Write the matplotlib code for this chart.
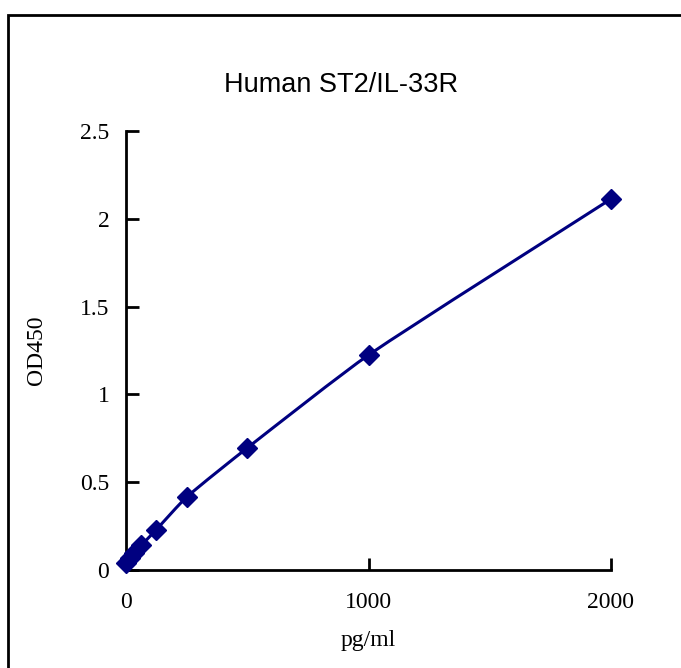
import numpy as np
import matplotlib.pyplot as plt
from matplotlib.path import Path
from matplotlib.patches import PathPatch, Rectangle

# standard concentrations and OD readings
conc = [0, 15.6, 31.25, 62.5, 125, 250, 500, 1000, 2000]
od450 = [0.04, 0.07, 0.097, 0.14, 0.23, 0.415, 0.695, 1.224, 2.113]
x_ticks = [0, 1000, 2000]
y_ticks = [0, 0.5, 1, 1.5, 2, 2.5]
y_tick_labels = ['0', '0.5', '1', '1.5', '2', '2.5']

navy = '#000080'
serif = ['Liberation Serif', 'DejaVu Serif']

fig = plt.figure(figsize=(6.81, 6.68), dpi=100)
# outer chart frame, runs off the right and bottom of the image
fig.patches.append(Rectangle((8 / 681, -0.05), 1.1, 1 - 15 / 668 + 0.05,
                             transform=fig.transFigure, fill=False,
                             edgecolor='black', linewidth=2))

ax = fig.add_axes([126 / 681, 1 - 570 / 668, 485 / 681, 439 / 668])


def smooth_path(xs, ys, sx, sy, k=0.2):
    """Smoothed line as cubic bezier segments, built in screen-like space."""
    pts = np.column_stack([np.asarray(xs) * sx, np.asarray(ys) * sy])
    n = len(pts)
    tang = []
    for i in range(n):
        d = pts[min(i + 1, n - 1)] - pts[max(i - 1, 0)]
        tang.append(d / np.hypot(*d))
    verts = [pts[0]]
    codes = [Path.MOVETO]
    for i in range(n - 1):
        seg = np.hypot(*(pts[i + 1] - pts[i])) * k
        verts += [pts[i] + tang[i] * seg, pts[i + 1] - tang[i + 1] * seg, pts[i + 1]]
        codes += [Path.CURVE4] * 3
    verts = np.array(verts) / [sx, sy]
    return Path(verts, codes)


ax.add_patch(PathPatch(smooth_path(conc, od450, 485 / 2000, 439 / 2.5),
                       fill=False, edgecolor=navy, linewidth=2.2, zorder=2))
ax.plot(conc, od450, linestyle='none', marker='D', markersize=10,
        color=navy, zorder=3, clip_on=False)

ax.set_xlim(0, 2000)
ax.set_ylim(0, 2.5)
ax.set_xticks(x_ticks)
ax.set_yticks(y_ticks)
ax.set_yticklabels(y_tick_labels)
ax.tick_params(direction='in', length=9, width=2, labelsize=17)
ax.tick_params(axis='x', pad=16)
ax.tick_params(axis='y', pad=12)
for lab in ax.get_xticklabels() + ax.get_yticklabels():
    lab.set_family(serif)
for side in ['top', 'right']:
    ax.spines[side].set_visible(False)
for side in ['left', 'bottom']:
    ax.spines[side].set_linewidth(2)

ax.set_xlabel('pg/ml', family=serif, fontsize=17, labelpad=12)
ax.set_ylabel('OD450', family=serif, fontsize=17, labelpad=24)
fig.text(341 / 681, 1 - 85 / 668, 'Human ST2/IL-33R', ha='center', va='center',
         family=['Liberation Sans', 'DejaVu Sans'], fontsize=19.5)

fig.savefig('out.png', dpi=100)
